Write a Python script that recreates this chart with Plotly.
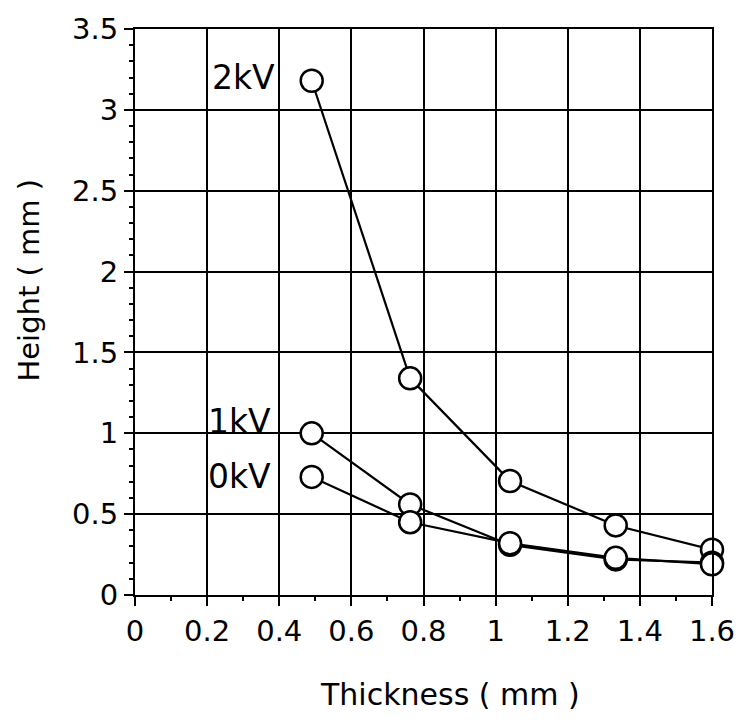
import plotly.graph_objects as go

thickness = [0.49, 0.763, 1.04, 1.333, 1.6]
h_2kv = [3.18, 1.34, 0.705, 0.43, 0.28]
h_1kv = [1.00, 0.56, 0.31, 0.22, 0.20]
h_0kv = [0.73, 0.45, 0.32, 0.23, 0.19]
series = [("2kV", h_2kv), ("1kV", h_1kv), ("0kV", h_0kv)]
label_pos = {"2kV": (0.30, 3.2), "1kV": (0.29, 1.07), "0kV": (0.29, 0.73)}
x_title = "Thickness ( mm )"
y_title = "Height ( mm )"

FONT = "DejaVu Sans"
fig = go.Figure()
for name, ys in series:
    fig.add_trace(go.Scatter(
        x=thickness, y=ys, mode="lines+markers", name=name,
        line=dict(color="black", width=2.2),
        marker=dict(symbol="circle", size=22, color="white",
                    line=dict(color="black", width=2.5)),
        showlegend=False, cliponaxis=False))
    lx, ly = label_pos[name]
    fig.add_annotation(x=lx, y=ly, text=name, showarrow=False,
                       font=dict(family=FONT, size=33, color="black"))

fig.add_annotation(xref="paper", yref="paper", x=0.546, y=-0.175,
                   xanchor="center", yanchor="middle",
                   text=x_title, showarrow=False,
                   font=dict(family=FONT, size=30, color="black"))
fig.add_annotation(xref="paper", yref="paper", x=-0.184, y=0.557,
                   xanchor="center", yanchor="middle",
                   text=y_title, showarrow=False, textangle=-90,
                   font=dict(family=FONT, size=29, color="black"))

axis_common = dict(
    showgrid=True, gridcolor="black", gridwidth=2,
    showline=True, linecolor="black", linewidth=2, mirror=True,
    ticks="outside", ticklen=9, tickwidth=2, tickcolor="black",
    zeroline=False,
    tickfont=dict(family=FONT, size=29, color="black"),
)
fig.update_xaxes(range=[0, 1.6], dtick=0.2, tick0=0,
                 minor=dict(dtick=0.1, ticks="outside", ticklen=4, tickcolor="black", showgrid=False),
                 **axis_common)
fig.update_yaxes(range=[0, 3.5], dtick=0.5, tick0=0,
                 minor=dict(dtick=0.1, ticks="outside", ticklen=4, tickcolor="black", showgrid=False),
                 **axis_common)
fig.update_layout(
    width=749, height=722,
    margin=dict(l=135, r=37, t=24, b=127),
    paper_bgcolor="white", plot_bgcolor="white",
)
fig.write_html("out.html")
